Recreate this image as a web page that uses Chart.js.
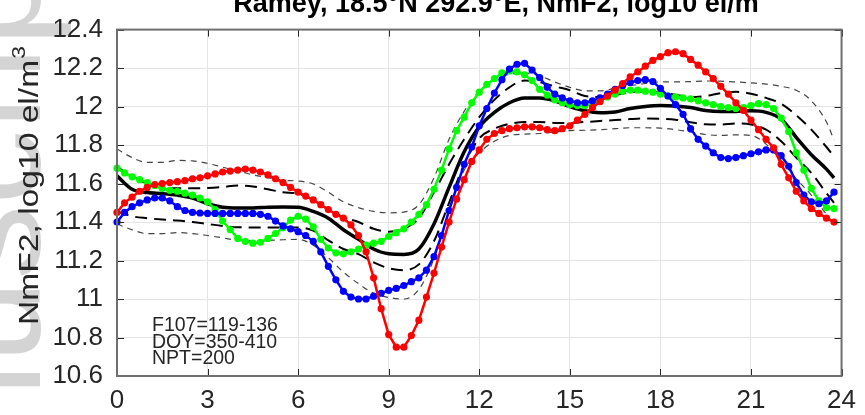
<!DOCTYPE html>
<html>
<head>
<meta charset="utf-8">
<script src="https://cdn.jsdelivr.net/npm/chart.js@4.4.1/dist/chart.umd.min.js"></script>
<style>
  html, body { margin: 0; padding: 0; background: #fff; overflow: hidden; }
  canvas { display: block; }
</style>
</head>
<body>
<canvas id="chart" width="865" height="415"></canvas>
<script>
// Local time axis: binned medians every 15 min, fitted bands every 30 min
const hours = [];
for (let i = 0; i < 96; i++) hours.push(i / 4);

const bandHours = [0, 0.5, 1, 1.5, 2, 2.5, 3, 3.5, 4, 4.5, 5, 5.5, 6, 6.5, 7, 7.5, 8, 8.5, 9, 9.5,
  10, 10.5, 11, 11.5, 12, 12.5, 13, 13.5, 14, 14.5, 15, 15.5, 16, 16.5, 17, 17.5, 18, 18.5, 19, 19.5,
  20, 20.5, 21, 21.5, 22, 22.5, 23, 23.5, 23.75];

const xTicks = [0, 3, 6, 9, 12, 15, 18, 21, 24];
const yTicks = [10.6, 10.8, 11, 11.2, 11.4, 11.6, 11.8, 12, 12.2, 12.4];

// NmF2 (log10 el/m3) for the three data subsets
const redVals = [
  11.45, 11.50, 11.53, 11.56, 11.58, 11.595, 11.60, 11.605,
  11.61, 11.615, 11.625, 11.63, 11.64, 11.65, 11.66, 11.665,
  11.67, 11.675, 11.67, 11.66, 11.645, 11.625, 11.605, 11.58,
  11.555, 11.535, 11.515, 11.49, 11.465, 11.44, 11.42, 11.385,
  11.33, 11.245, 11.11, 10.95, 10.815, 10.75, 10.75, 10.81,
  10.89, 11.01, 11.135, 11.27, 11.40, 11.52, 11.62, 11.715,
  11.775, 11.83, 11.86, 11.875, 11.885, 11.89, 11.895, 11.895,
  11.89, 11.88, 11.875, 11.885, 11.90, 11.93, 11.96, 11.995,
  12.025, 12.055, 12.085, 12.12, 12.155, 12.18, 12.21, 12.24,
  12.26, 12.28, 12.285, 12.275, 12.245, 12.215, 12.18, 12.145,
  12.105, 12.065, 12.02, 11.98, 11.93, 11.88, 11.83, 11.785,
  11.70, 11.63, 11.56, 11.51, 11.47, 11.445, 11.42, 11.40
];
const blueVals = [
  11.40, 11.45, 11.48, 11.50, 11.515, 11.525, 11.525, 11.51,
  11.48, 11.46, 11.45, 11.447, 11.445, 11.445, 11.445, 11.445,
  11.445, 11.445, 11.445, 11.44, 11.43, 11.405, 11.38, 11.365,
  11.35, 11.33, 11.30, 11.245, 11.17, 11.10, 11.04, 11.01,
  11.00, 11.00, 11.015, 11.03, 11.045, 11.055, 11.07, 11.09,
  11.11, 11.15, 11.22, 11.33, 11.46, 11.58, 11.70, 11.79,
  11.90, 11.99, 12.07, 12.14, 12.195, 12.22, 12.225, 12.19,
  12.15, 12.10, 12.065, 12.045, 12.03, 12.02, 12.02, 12.03,
  12.045, 12.065, 12.09, 12.11, 12.125, 12.135, 12.14, 12.13,
  12.095, 12.055, 12.01, 11.96, 11.885, 11.83, 11.795, 11.76,
  11.735, 11.73, 11.735, 11.745, 11.755, 11.765, 11.775, 11.775,
  11.745, 11.69, 11.605, 11.54, 11.505, 11.495, 11.51, 11.555
];
const greenVals = [
  11.68, 11.655, 11.635, 11.62, 11.605, 11.59, 11.575, 11.565,
  11.56, 11.55, 11.54, 11.525, 11.505, 11.465, 11.405, 11.36,
  11.315, 11.30, 11.29, 11.295, 11.315, 11.34, 11.37, 11.41,
  11.43, 11.415, 11.375, 11.31, 11.265, 11.24, 11.235, 11.245,
  11.26, 11.28, 11.29, 11.30, 11.325, 11.345, 11.365, 11.40,
  11.44, 11.49, 11.57, 11.67, 11.78, 11.875, 11.945, 12.02,
  12.075, 12.115, 12.145, 12.175, 12.185, 12.18, 12.165, 12.135,
  12.09, 12.06, 12.035, 12.02, 12.01, 12.005, 12.005, 12.015,
  12.03, 12.05, 12.065, 12.08, 12.085, 12.085, 12.08, 12.075,
  12.065, 12.055, 12.05, 12.045, 12.04, 12.03, 12.02, 12.01,
  12.00, 11.995, 11.99, 11.995, 12.005, 12.015, 12.01, 11.99,
  11.94, 11.87, 11.76, 11.67, 11.575, 11.51, 11.475, 11.47
];

// model mean with 1-sigma and 2-sigma envelopes
const meanVals = [11.64, 11.57, 11.553, 11.548, 11.54, 11.525, 11.495, 11.477, 11.473, 11.473,
  11.477, 11.478, 11.477, 11.455, 11.42, 11.36, 11.31, 11.26, 11.235, 11.232,
  11.26, 11.39, 11.58, 11.765, 11.895, 11.97, 12.02, 12.045, 12.045, 12.03,
  12.0, 11.978, 11.968, 11.972, 11.99, 12.0, 12.005, 12.003, 11.995, 11.98,
  11.975, 11.975, 11.978, 11.97, 11.935, 11.84, 11.75, 11.675, 11.63];
const upper1 = [11.685, 11.64, 11.60, 11.578, 11.575, 11.575, 11.577, 11.582, 11.59, 11.585,
  11.57, 11.555, 11.548, 11.515, 11.465, 11.425, 11.40, 11.365, 11.35, 11.365,
  11.42, 11.555, 11.70, 11.83, 11.945, 12.035, 12.10, 12.135, 12.127, 12.105,
  12.085, 12.055, 12.05, 12.06, 12.075, 12.078, 12.072, 12.062, 12.05, 12.055,
  12.07, 12.077, 12.067, 12.045, 12.015, 11.955, 11.88, 11.79, 11.74];
const lower1 = [11.455, 11.43, 11.42, 11.413, 11.408, 11.40, 11.39, 11.38, 11.373, 11.372,
  11.372, 11.372, 11.372, 11.355, 11.305, 11.26, 11.233, 11.19, 11.16, 11.15,
  11.18, 11.30, 11.50, 11.70, 11.835, 11.885, 11.91, 11.92, 11.92, 11.915,
  11.915, 11.92, 11.925, 11.93, 11.935, 11.938, 11.937, 11.932, 11.918, 11.908,
  11.907, 11.912, 11.907, 11.88, 11.82, 11.735, 11.655, 11.55, 11.50];
const upper2 = [11.78, 11.735, 11.71, 11.71, 11.72, 11.718, 11.705, 11.685, 11.665, 11.645,
  11.63, 11.617, 11.613, 11.598, 11.555, 11.505, 11.475, 11.455, 11.448, 11.452,
  11.49, 11.63, 11.83, 11.975, 12.08, 12.14, 12.168, 12.175, 12.16, 12.128,
  12.10, 12.082, 12.082, 12.095, 12.108, 12.12, 12.128, 12.128, 12.13, 12.133,
  12.132, 12.128, 12.123, 12.117, 12.105, 12.085, 12.03, 11.92, 11.826];
const lower2 = [11.39, 11.36, 11.34, 11.34, 11.345, 11.34, 11.33, 11.318, 11.305, 11.302,
  11.305, 11.308, 11.31, 11.28, 11.215, 11.14, 11.08, 11.03, 11.008, 11.0,
  11.05, 11.21, 11.46, 11.67, 11.76, 11.82, 11.85, 11.857, 11.86, 11.868,
  11.875, 11.877, 11.88, 11.885, 11.89, 11.89, 11.888, 11.88, 11.868, 11.855,
  11.85, 11.853, 11.85, 11.805, 11.72, 11.625, 11.54, 11.44, 11.39];

const infoLines = ['F107=119-136', 'DOY=350-410', 'NPT=200'];

const FONT = "'Liberation Sans', Arial, Helvetica, sans-serif";
const TEXT = '#262626';

function pts(xs, ys) {
  return ys.map((v, i) => ({ x: xs[i], y: v }));
}

function dataLine(vals, color) {
  return {
    data: pts(hours, vals),
    borderColor: color,
    backgroundColor: color,
    borderWidth: 2.5,
    pointRadius: 3.6,
    pointBorderWidth: 0,
    pointBackgroundColor: color,
    tension: 0,
    clip: false,
    order: 1
  };
}

function bandLine(vals, opts) {
  return Object.assign({
    data: pts(bandHours, vals),
    borderColor: '#000',
    borderWidth: 2,
    pointRadius: 0,
    cubicInterpolationMode: 'monotone',
    order: 2
  }, opts);
}

// title, y label, info text, inward ticks, box and margin watermark
const decorations = {
  id: 'decorations',
  beforeDraw(chart) {
    const ctx = chart.ctx;
    ctx.save();
    ctx.fillStyle = '#d4d4d4';
    ctx.font = `150px ${FONT}`;
    ctx.translate(40, 655);
    ctx.rotate(-Math.PI / 2);
    ctx.fillText('Manuscript', 0, 0);
    ctx.restore();
  },
  afterDraw(chart) {
    const { ctx, chartArea: a, scales: { x, y } } = chart;
    ctx.save();

    // inward tick marks on all four sides
    ctx.strokeStyle = TEXT;
    ctx.lineWidth = 1;
    ctx.beginPath();
    xTicks.forEach(t => {
      const px = Math.round(x.getPixelForValue(t)) + 0.5;
      ctx.moveTo(px, a.bottom); ctx.lineTo(px, a.bottom - 7);
      ctx.moveTo(px, a.top); ctx.lineTo(px, a.top + 7);
    });
    yTicks.forEach(t => {
      const py = Math.round(y.getPixelForValue(t)) + 0.5;
      ctx.moveTo(a.left, py); ctx.lineTo(a.left + 7, py);
      ctx.moveTo(a.right, py); ctx.lineTo(a.right - 7, py);
    });
    ctx.stroke();

    // axes box
    ctx.strokeStyle = '#6f6f6f';
    ctx.lineWidth = 2;
    ctx.strokeRect(a.left, a.top, a.right - a.left, a.bottom - a.top);

    // title (top half falls outside the picture)
    ctx.fillStyle = '#000';
    ctx.font = `bold 27px ${FONT}`;
    ctx.textAlign = 'center';
    ctx.textBaseline = 'alphabetic';
    const title = 'Ramey, 18.5\u00B0N 292.9\u00B0E, NmF2, log10 el/m';
    ctx.fillText(title, 496, 12);
    const tw = ctx.measureText(title).width;
    ctx.font = `bold 19px ${FONT}`;
    ctx.textAlign = 'left';
    ctx.fillText('3', 496 + tw / 2 + 1, -2);

    // y axis label
    ctx.fillStyle = TEXT;
    ctx.save();
    ctx.translate(38, 325);
    ctx.rotate(-Math.PI / 2);
    ctx.scale(1.2, 1);
    ctx.font = `28px ${FONT}`;
    ctx.textAlign = 'left';
    const yl = 'NmF2, log10 el/m';
    ctx.fillText(yl, 0, 0);
    const yw = ctx.measureText(yl).width;
    ctx.font = `19px ${FONT}`;
    ctx.fillText('3', yw + 1, -13);
    ctx.restore();

    // run info
    ctx.font = `19.5px ${FONT}`;
    ctx.textAlign = 'left';
    infoLines.forEach((s, i) => ctx.fillText(s, 152, 331 + i * 16.7));

    ctx.restore();
  }
};

new Chart(document.getElementById('chart'), {
  type: 'line',
  data: {
    datasets: [
      dataLine(redVals, '#ff0000'),
      dataLine(blueVals, '#0000ff'),
      dataLine(greenVals, '#00ff00'),
      bandLine(meanVals, { borderWidth: 3.5 }),
      bandLine(upper1, { borderDash: [12, 7] }),
      bandLine(lower1, { borderDash: [12, 7] }),
      bandLine(upper2, { borderColor: '#444', borderWidth: 1.2, borderDash: [6, 5] }),
      bandLine(lower2, { borderColor: '#444', borderWidth: 1.2, borderDash: [6, 5] })
    ]
  },
  options: {
    responsive: false,
    animation: false,
    events: [],
    layout: { padding: { top: 19, right: 20, left: 0, bottom: 0 } },
    plugins: {
      legend: { display: false },
      tooltip: { enabled: false }
    },
    scales: {
      x: {
        type: 'linear',
        min: 0,
        max: 24,
        afterFit(s) { s.height = 39; },
        afterBuildTicks(s) { s.ticks = xTicks.map(v => ({ value: v })); },
        grid: { color: '#e4e4e4', drawTicks: false },
        border: { display: false },
        ticks: {
          padding: 9,
          color: TEXT,
          font: { family: FONT, size: 26 },
          maxRotation: 0
        }
      },
      y: {
        type: 'linear',
        min: 10.6,
        max: 12.4,
        afterFit(s) { s.width = 117; },
        afterBuildTicks(s) { s.ticks = yTicks.map(v => ({ value: v })); },
        grid: { color: '#e4e4e4', drawTicks: false },
        border: { display: false },
        ticks: {
          padding: 14,
          color: TEXT,
          font: { family: FONT, size: 26 },
          callback: v => String(+v.toFixed(1))
        }
      }
    }
  },
  plugins: [decorations]
});
</script>
</body>
</html>
